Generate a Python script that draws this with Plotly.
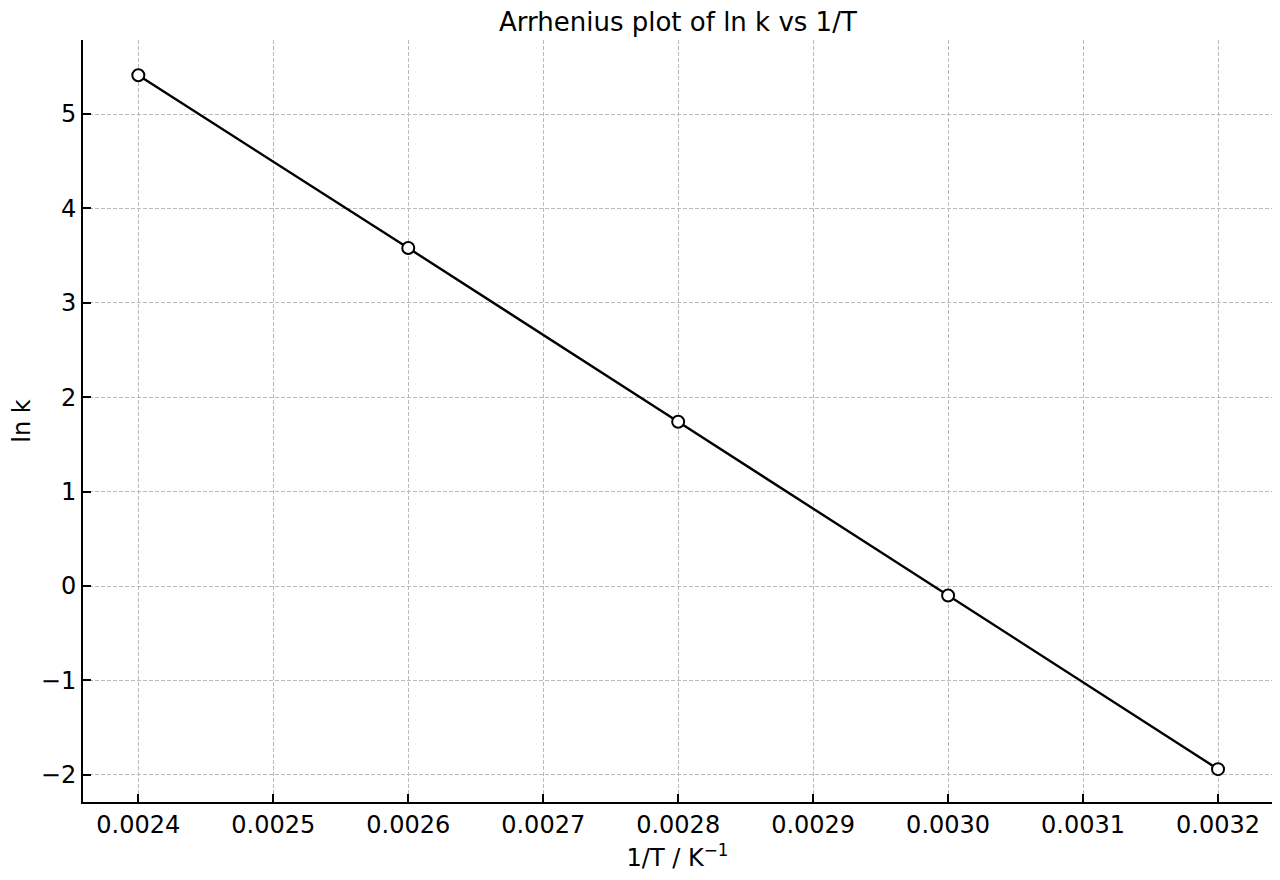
import plotly.graph_objects as go

# Arrhenius data: 1/T (K^-1) and ln k
inv_T = [0.0024, 0.0026, 0.0028, 0.0030, 0.0032]
ln_k = [5.41, 3.58, 1.74, -0.10, -1.94]

x_ticks = [0.0024, 0.0025, 0.0026, 0.0027, 0.0028, 0.0029, 0.0030, 0.0031, 0.0032]
x_labels = ["0.0024", "0.0025", "0.0026", "0.0027", "0.0028", "0.0029", "0.0030", "0.0031", "0.0032"]
y_ticks = [-2, -1, 0, 1, 2, 3, 4, 5]
y_labels = ["\u22122", "\u22121", "0", "1", "2", "3", "4", "5"]

fig = go.Figure()

fig.add_trace(go.Scatter(
    x=inv_T, y=ln_k,
    mode='lines+markers',
    line=dict(color='black', width=2.4),
    marker=dict(size=12, symbol='circle', color='white', line=dict(width=2, color='black')),
    showlegend=False,
    hoverinfo='skip'
))

axis_font = dict(family="DejaVu Sans", size=24, color='black')

fig.update_layout(
    title=dict(text="Arrhenius plot of ln k vs 1/T", x=0.53, xanchor='center',
               yref='container', y=0.984, yanchor='middle',
               font=dict(family="DejaVu Sans", size=26, color='black')),
    plot_bgcolor='white',
    paper_bgcolor='white',
    margin=dict(l=75, r=0, t=32, b=70),
    xaxis=dict(
        range=[0.002359, 0.003240],
        tickvals=x_ticks, ticktext=x_labels,
        showgrid=True, gridcolor='#bbbbbb', griddash='4px,2px', gridwidth=1,
        zeroline=False,
        showline=True, linecolor='black', linewidth=2,
        ticks='inside', ticklen=8, tickwidth=2, tickcolor='black',
        tickfont=axis_font,
        title=dict(text="1/T / K<sup>\u22121</sup>", font=axis_font, standoff=13),
    ),
    yaxis=dict(
        range=[-2.288, 5.784],
        tickvals=y_ticks, ticktext=y_labels,
        showgrid=True, gridcolor='#bbbbbb', griddash='4px,2px', gridwidth=1,
        zeroline=False,
        showline=True, linecolor='black', linewidth=2,
        ticks='inside', ticklen=8, tickwidth=2, tickcolor='black',
        tickfont=axis_font,
        title=dict(text="ln k", font=axis_font, standoff=10),
    ),
    showlegend=False
)

fig.write_html("out.html")
